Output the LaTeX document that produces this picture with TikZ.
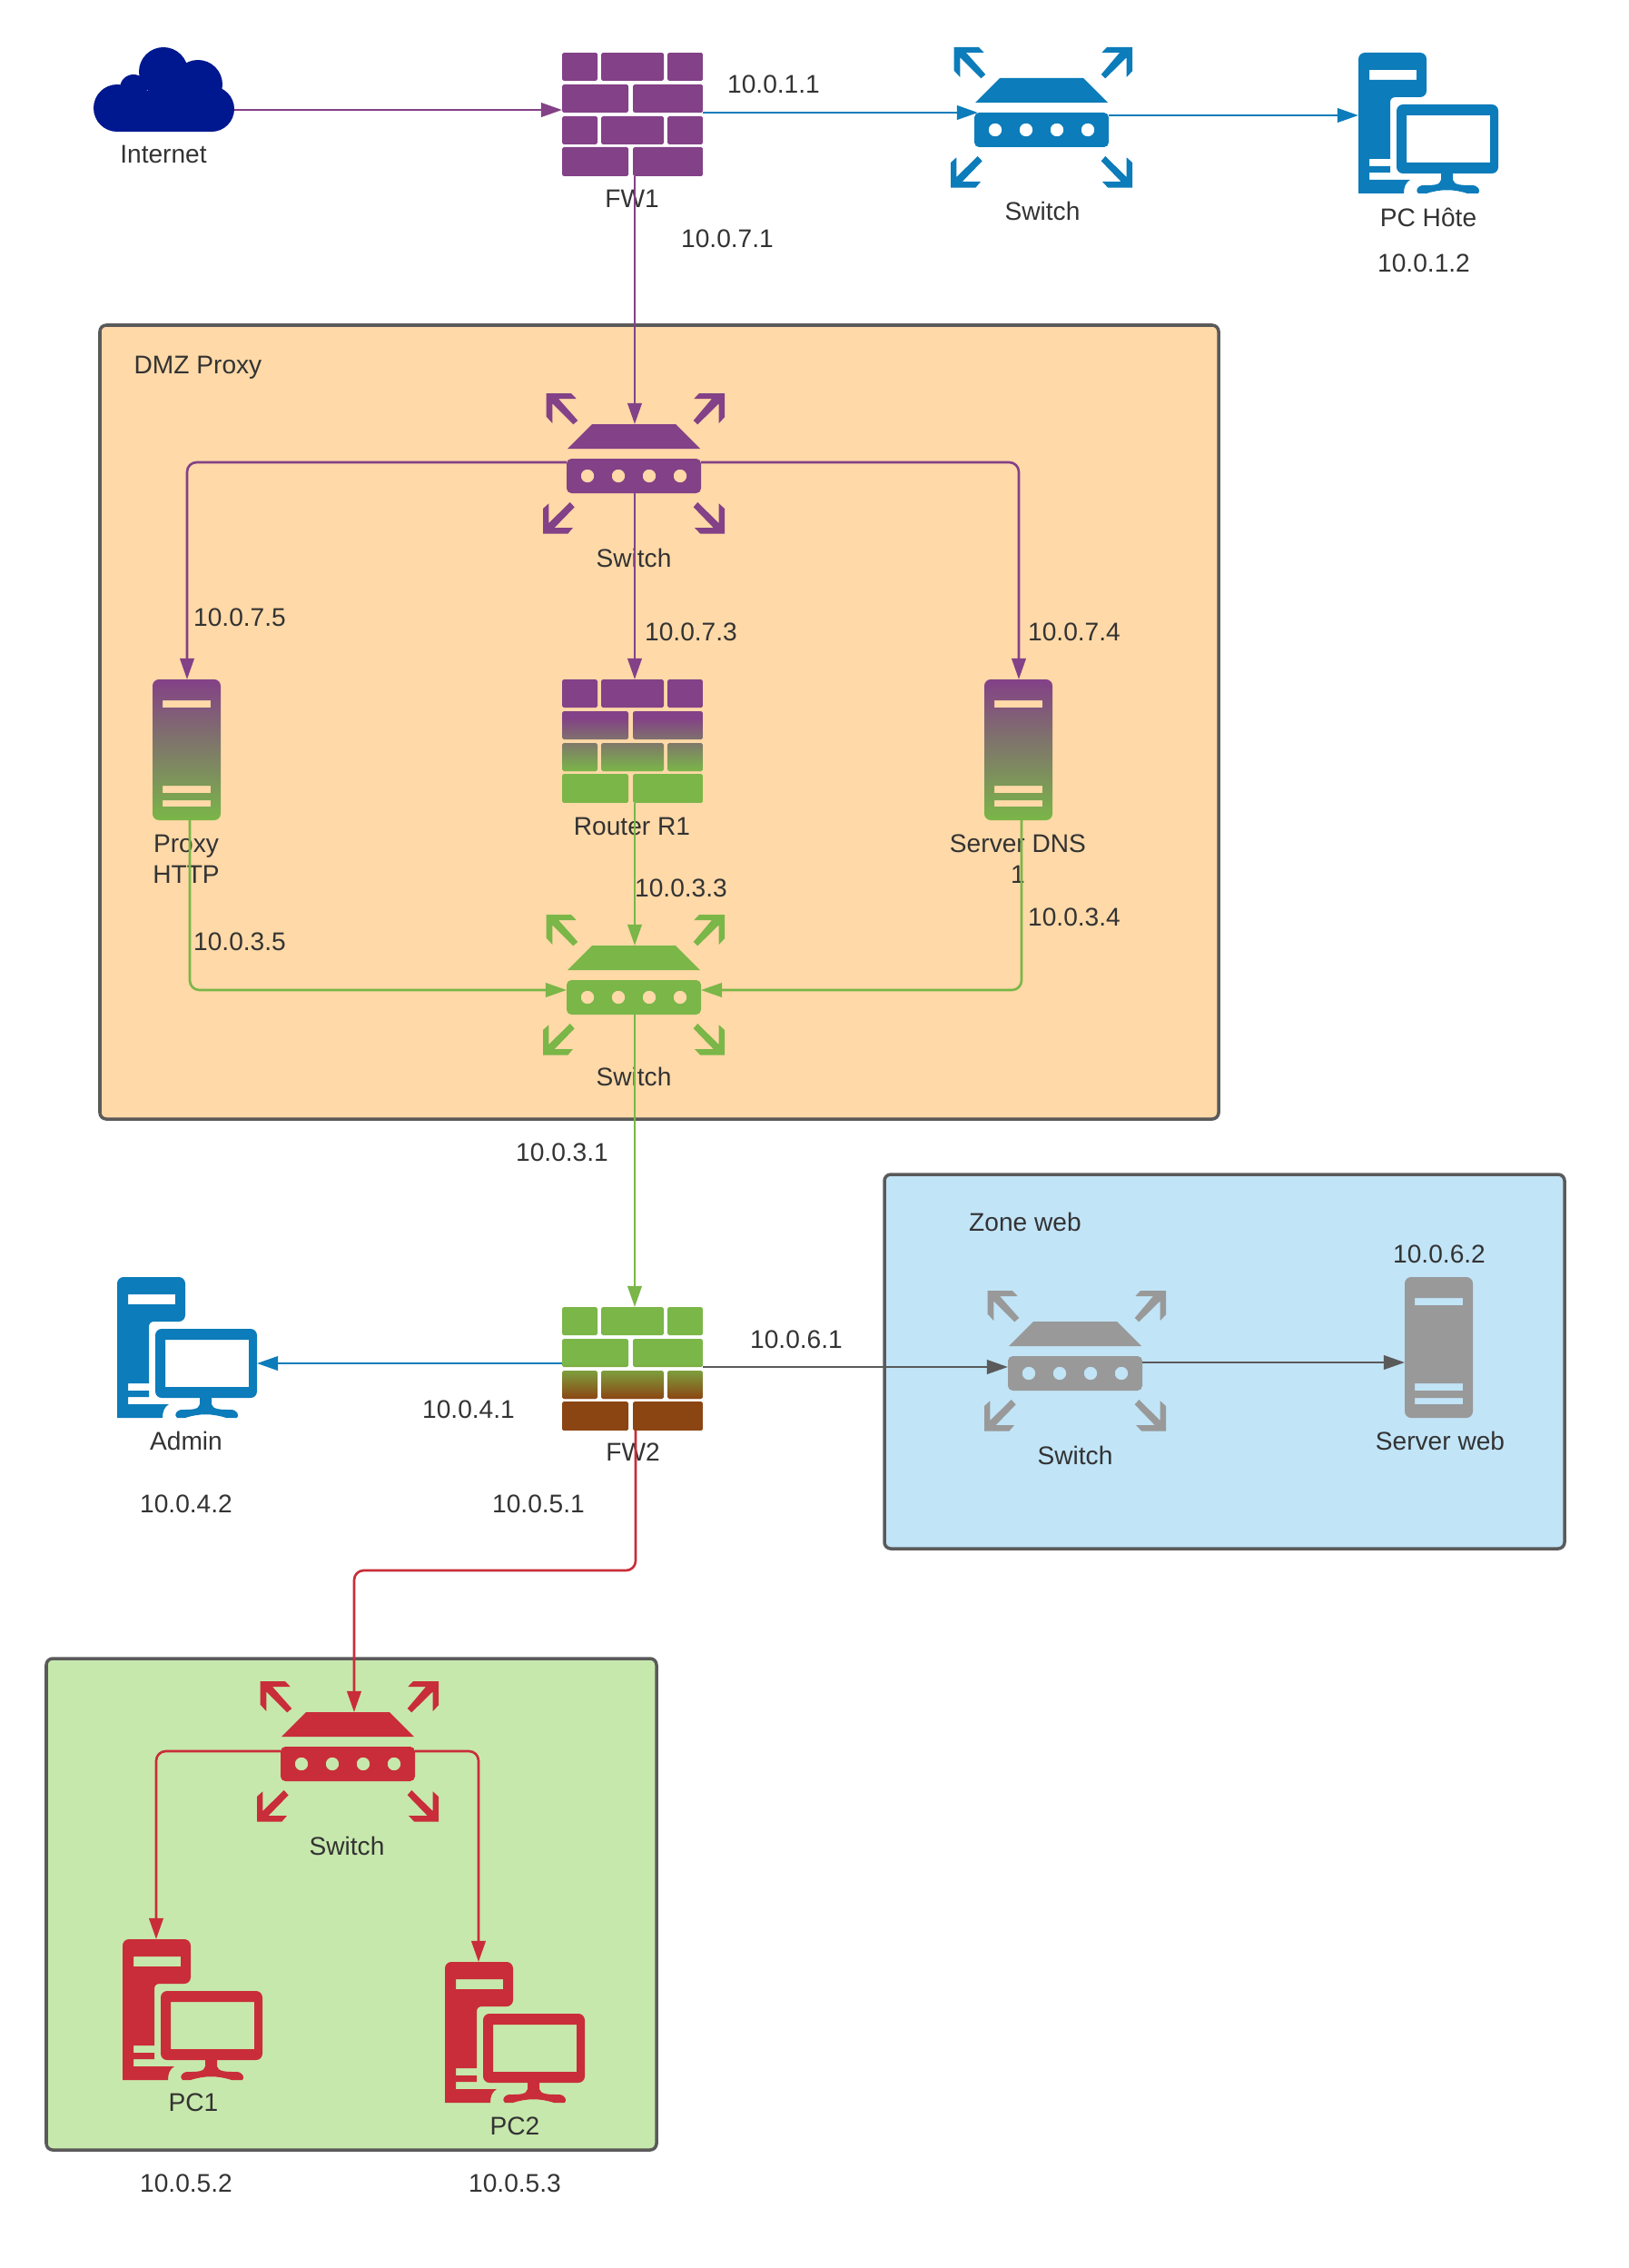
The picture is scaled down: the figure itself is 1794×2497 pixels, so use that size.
\documentclass[tikz,border=0pt]{standalone}
\usepackage{fontspec}
\setmainfont{Liberation Sans}
\usepackage{xcolor}
\usetikzlibrary{arrows.meta, calc}
\definecolor{viola}{HTML}{834187}
\definecolor{verde}{HTML}{7AB648}
\definecolor{blu}{HTML}{0C7CBA}
\definecolor{rosso}{HTML}{C92D39}
\definecolor{grigio}{HTML}{999999}
\definecolor{marrone}{HTML}{8B4513}
\definecolor{nuvola}{HTML}{00188F}
\definecolor{testo}{HTML}{333333}
\definecolor{bordo}{HTML}{5A5A5A}
\definecolor{sfondoDmz}{HTML}{FFD9A8}
\definecolor{sfondoWeb}{HTML}{C1E4F7}
\definecolor{sfondoPc}{HTML}{C7E8AC}
\newcommand{\mattoni}{
(0,0) rectangle (39,31) (43,0) rectangle (112,31) (116,0) rectangle (155,31)
(0,35) rectangle (73,66) (78,35) rectangle (155,66)
(0,70) rectangle (39,101) (43,70) rectangle (112,101) (116,70) rectangle (155,101)
(0,104) rectangle (73,136) (78,104) rectangle (155,136)
}
\tikzset{
  lab/.style = {text = testo, align = center, inner sep = 0pt, font = \fontsize{8}{9.6}\selectfont},
  zona/.style = {draw = bordo, line width = 1pt, rounded corners = 2pt},
  link/.style = {#1, line width = 0.75pt, rounded corners = 3pt, -{Triangle[length = 6.6pt, width = 4.4pt]}},
  pics/switchicon/.style = {code = {
    \fill[#1] (3.7,0) -- (31,0) -- (36.7,6) -- (17,6) -- (38.3,30) -- (33.3,34.3) -- (10.3,11.3) -- (10.3,33) -- (3.7,25.7) -- cycle;
    \fill[#1] (200,0) -- (172,0) -- (166.3,6) -- (186,6) -- (165.7,30) -- (170.3,34.3) -- (193.7,11.3) -- (193.7,33) -- (200,26.3) -- cycle;
    \fill[#1] (0,154.7) -- (27.3,154.7) -- (33,148) -- (12.7,148) -- (34.7,125.3) -- (29.7,120) -- (6.3,143) -- (6.3,121.3) -- (0,127) -- cycle;
    \fill[#1] (200,154.7) -- (173.3,154.7) -- (167,148) -- (187.7,148) -- (165.7,125.3) -- (170.3,120) -- (193.7,143) -- (193.7,121.3) -- (200,127) -- cycle;
    \fill[#1] (27,61) -- (54,34) -- (146,34) -- (173,61) -- cycle;
    \fill[#1, even odd rule] [rounded corners = 1.5pt] (26,72) rectangle (174,110) [sharp corners]
      (49,91) circle (7.3) (83,91) circle (7.3) (117,91) circle (7.3) (151,91) circle (7.3);
    \coordinate (-n) at (101,34);
    \coordinate (-s) at (101,110);
    \coordinate (-w) at (26,80);
    \coordinate (-e) at (174,80);
  }},
  pics/firewall/.style n args = {4}{code = {
    \begin{scope}
      \clip[rounded corners = 0.5pt] \mattoni;
      \fill[#1] (0,0) rectangle (155,#3);
      \fill[#2] (0,#4) rectangle (155,136);
      \shade[top color = #1, bottom color = #2] (0,#3) rectangle (155,#4);
    \end{scope}
    \coordinate (-n) at (80,0);
    \coordinate (-s) at (80,136);
    \coordinate (-w) at (0,63);
    \coordinate (-e) at (155,66);
  }},
  pics/serverbox/.style 2 args = {code = {
    \shade[top color = #1, bottom color = #2, even odd rule]
      [rounded corners = 2pt] (0,155) -- (0,0) -- (75,0) -- (75,155) -- cycle [sharp corners]
      (11,23) rectangle (64,31) (11,117) rectangle (64,125) (11,133) rectangle (64,140);
    \coordinate (-n) at (38,0);
    \coordinate (-s) at (41,155);
    \coordinate (-w) at (0,94);
  }},
  pics/pcicon/.style = {code = {
    % torre
    \fill[#1, even odd rule] [rounded corners = 2pt] (0,155) -- (0,0) -- (75,0) -- (75,49) [sharp corners] -- (41,49)
      .. controls (37,49) and (35,51) .. (35,55) -- (35,117) -- (12,117) -- (12,125) -- (35,125) -- (35,132) -- (12,132)
      -- (12,140) -- (57,140) .. controls (52,143) and (50,148) .. (50,155) -- cycle
      (12,19) rectangle (64,30);
    % schermo
    \fill[#1, even odd rule] [rounded corners = 2pt] (42,57) rectangle (154,133) [sharp corners] (53,69) rectangle (145,121);
    \fill[#1] (91,132) -- (104,132) -- (104,140) .. controls (105,146) and (115,146) .. (125,146)
      .. controls (132,146) and (135,152) .. (132,155) -- (120,155) .. controls (105,150) and (90,150) .. (75,155)
      -- (66,155) .. controls (62,152) and (65,146) .. (72,146) .. controls (82,146) and (90,146) .. (91,140) -- cycle;
    \coordinate (-n) at (37,0);
    \coordinate (-w) at (0,69);
    \coordinate (-e) at (154,95);
  }}
}
\begin{document}
\begin{tikzpicture}[x = 0.01cm, y = -0.01cm]
    \useasboundingbox (0,0) rectangle (1794,2497);
    % Zone
    \path[zona, fill = sfondoDmz] (110,358) rectangle (1342,1232);
    \path[zona, fill = sfondoWeb] (974,1293) rectangle (1723,1705);
    \path[zona, fill = sfondoPc] (51,1826) rectangle (723,2367);
    % Nuvola
    \fill[nuvola] (129,119) circle (26);
    \fill[nuvola] (147,97) circle (15);
    \fill[nuvola] (180,79) circle (27);
    \fill[nuvola] (218,93) circle (27);
    \fill[nuvola] (233,120) circle (25);
    \fill[nuvola] (129,100) rectangle (233,145);
    \coordinate (nuvolaInt) at (258,121);
    % Icone
    \pic (fwUno) at (619,58) {firewall = {viola}{viola}{40}{100}};
    \pic (swHost) at (1047,52) {switchicon = blu};
    \pic (pcHost) at (1496,58) {pcicon = blu};
    \pic (swDmz) at (598,433) {switchicon = viola};
    \pic (srvProxy) at (168,748) {serverbox = {viola}{verde}};
    \pic (rtUno) at (619,748) {firewall = {viola}{verde}{42}{101}};
    \pic (srvDns) at (1084,748) {serverbox = {viola}{verde}};
    \pic (swVerde) at (598,1007) {switchicon = verde};
    \pic (pcAdmin) at (129,1406) {pcicon = blu};
    \pic (fwDue) at (619,1439) {firewall = {verde}{marrone}{62}{101}};
    \pic (swWeb) at (1084,1421) {switchicon = grigio};
    \pic (srvWeb) at (1547,1406) {serverbox = {grigio}{grigio}};
    \pic (swRosso) at (283,1851) {switchicon = rosso};
    \pic (pcUno) at (135,2135) {pcicon = rosso};
    \pic (pcDue) at (490,2160) {pcicon = rosso};
    % Etichette
    \node[lab] (lInternet) at (180,170) {Internet};
    \node[lab] (lFwUno) at (696,219) {FW1};
    \node[lab] (ipFwHost) at (852,93) {10.0.1.1};
    \node[lab] (lSwHost) at (1148,232) {Switch};
    \node[lab] (lPcHost) at (1573,239) {PC Hôte};
    \node[lab] (ipPcHost) at (1568,290) {10.0.1.2};
    \node[lab] (ipFwDmz) at (801,263) {10.0.7.1};
    \node[lab] (lDmz) at (218,405) {DMZ Proxy};
    \node[lab] (lSwDmz) at (698,614) {Switch};
    \node[lab] (ipProxyDmz) at (264,680) {10.0.7.5};
    \node[lab] (ipRtDmz) at (761,696) {10.0.7.3};
    \node[lab] (ipDnsDmz) at (1183,696) {10.0.7.4};
    \node[lab] (lProxy) at (205,946) {Proxy\\HTTP};
    \node[lab] (lRtUno) at (696,910) {Router R1};
    \node[lab] (lDns) at (1121,946) {Server DNS\\1};
    \node[lab] (ipRtVerde) at (750,978) {10.0.3.3};
    \node[lab] (ipDnsVerde) at (1183,1010) {10.0.3.4};
    \node[lab] (ipProxyVerde) at (264,1037) {10.0.3.5};
    \node[lab] (lSwVerde) at (698,1185) {Switch};
    \node[lab] (ipFwVerde) at (619,1269) {10.0.3.1};
    \node[lab] (lWeb) at (1129,1345) {Zone web};
    \node[lab] (ipSrvWeb) at (1585,1381) {10.0.6.2};
    \node[lab] (ipFwWeb) at (877,1475) {10.0.6.1};
    \node[lab] (lSwWeb) at (1184,1602) {Switch};
    \node[lab] (lSrvWeb) at (1586,1586) {Server web};
    \node[lab] (lAdmin) at (205,1586) {Admin};
    \node[lab] (ipFwAdmin) at (516,1552) {10.0.4.1};
    \node[lab] (lFwDue) at (697,1599) {FW2};
    \node[lab] (ipFwRosso) at (593,1656) {10.0.5.1};
    \node[lab] (ipAdmin) at (205,1656) {10.0.4.2};
    \node[lab] (lSwRosso) at (382,2032) {Switch};
    \node[lab] (lPcUno) at (213,2315) {PC1};
    \node[lab] (lPcDue) at (567,2341) {PC2};
    \node[lab] (ipPcUno) at (205,2404) {10.0.5.2};
    \node[lab] (ipPcDue) at (567,2404) {10.0.5.3};
    % Collegamenti
    \draw[link = viola] (nuvolaInt) -- (fwUno-w);
    \draw[link = blu] (fwUno-e) -- ($(swHost-w)+(4,-8)$);
    \draw[link = blu] ($(swHost-e)+(0,-5)$) -- (pcHost-w);
    \draw[link = viola] (fwUno-s) -- (swDmz-n);
    \draw[link = viola] ($(swDmz-w)+(0,-4)$) -| (srvProxy-n);
    \draw[link = viola] ($(swDmz-e)+(0,-4)$) -| (srvDns-n);
    \draw[link = viola] (swDmz-s) -- (rtUno-n);
    \draw[link = verde] (srvProxy-s) |- ($(swVerde-w)+(0,3)$);
    \draw[link = verde] (rtUno-s) -- (swVerde-n);
    \draw[link = verde] (srvDns-s) |- ($(swVerde-e)+(0,3)$);
    \draw[link = verde] (swVerde-s) -- (fwDue-n);
    \draw[link = blu] ($(fwDue-w)+(0,-1)$) -- (pcAdmin-e);
    \draw[link = bordo] (fwDue-e) -- ($(swWeb-w)+(0,4)$);
    \draw[link = bordo] ($(swWeb-e)+(0,-1)$) -- (srvWeb-w);
    \draw[link = rosso] ($(fwDue-s)+(1,0)$) -- ++(0,154) -| ($(swRosso-n)+(6,0)$);
    \draw[link = rosso] ($(swRosso-w)+(0,-3)$) -| (pcUno-n);
    \draw[link = rosso] ($(swRosso-e)+(0,-3)$) -| (pcDue-n);
\end{tikzpicture}
\end{document}
